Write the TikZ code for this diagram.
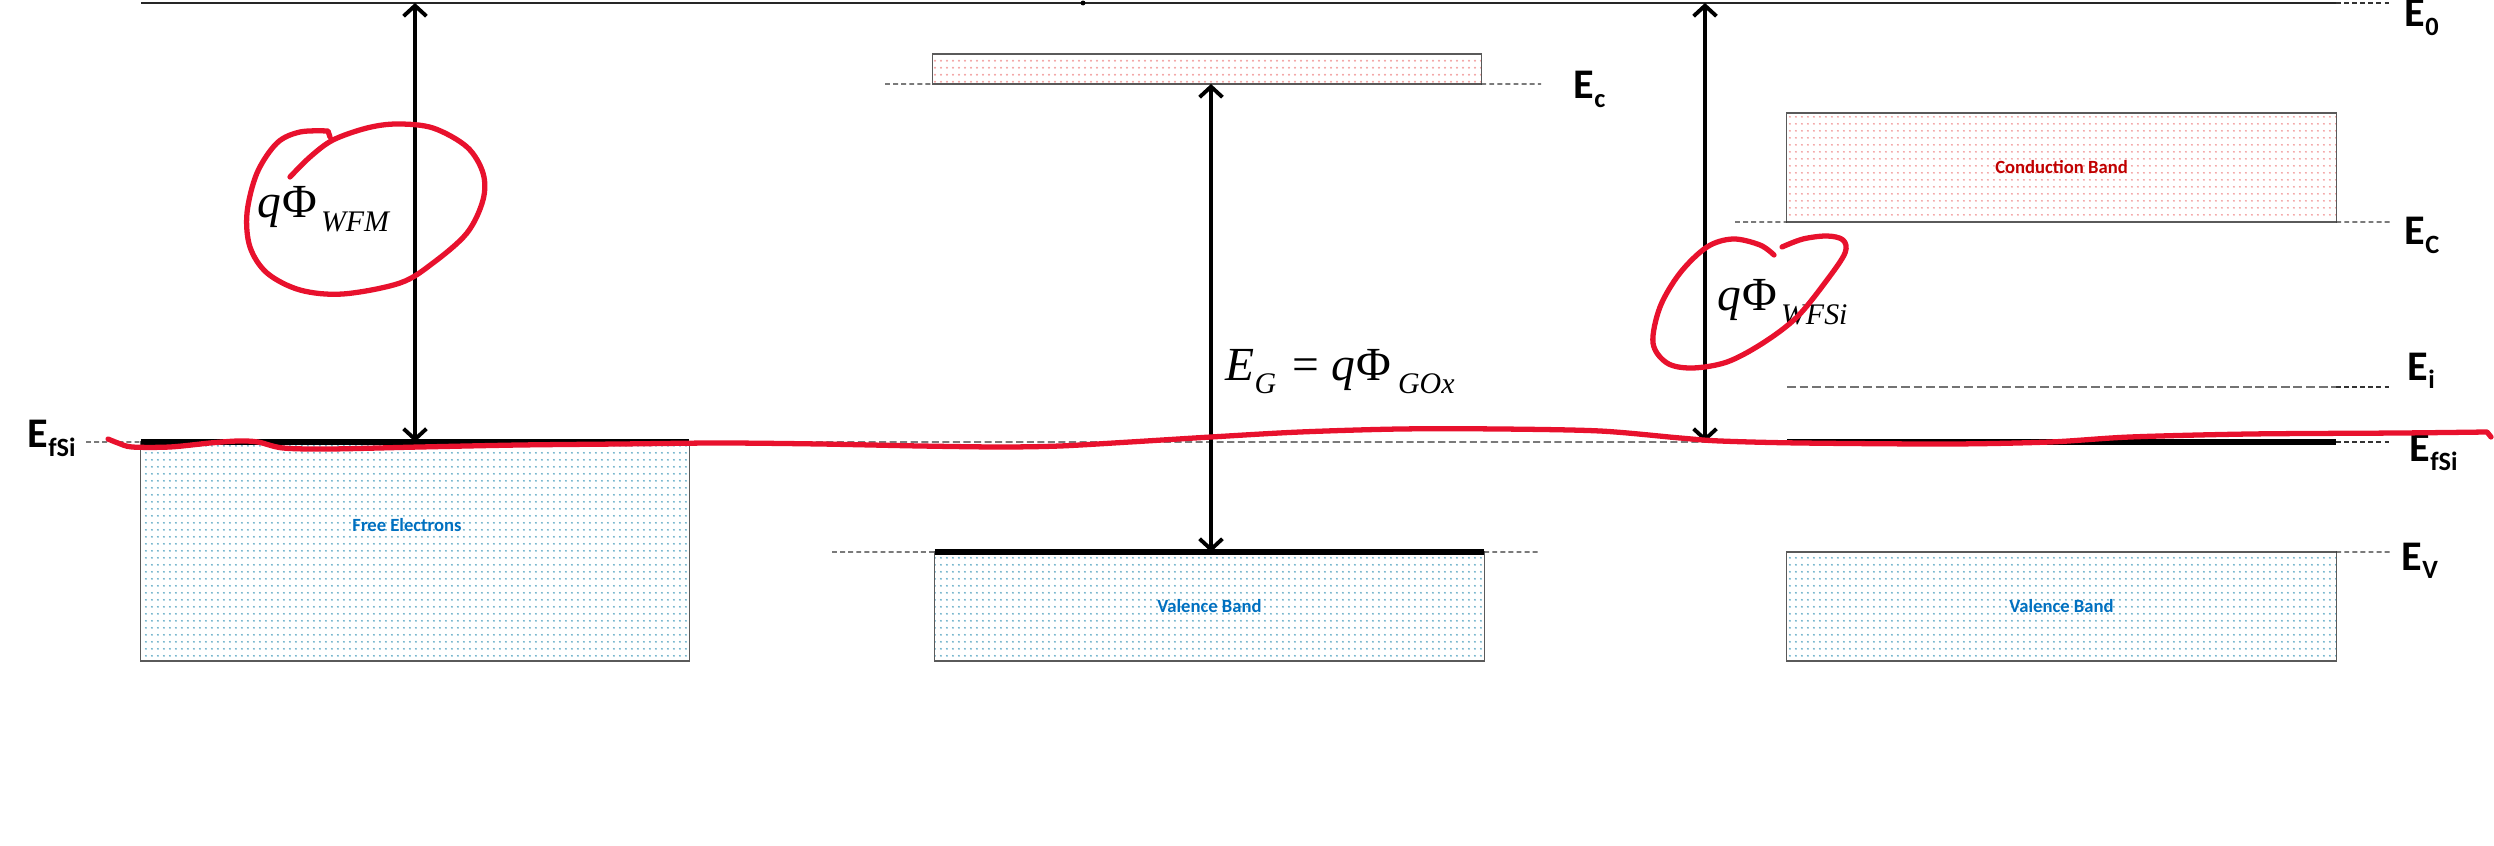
\documentclass[tikz,border=0pt]{standalone}
\usepackage{fontspec}
\setmainfont{Carlito}
\newfontfamily\timesf{Liberation Serif}
\usetikzlibrary{arrows.meta,patterns.meta}
\definecolor{inkred}{HTML}{E8112D}
\definecolor{dotblue}{HTML}{6AAFC8}
\definecolor{dotred}{HTML}{F2A0A0}
\definecolor{txtblue}{HTML}{0070C0}
\definecolor{txtred}{HTML}{C00000}
\definecolor{edgegray}{HTML}{5A5A5A}

\tikzdeclarepattern{
  name=finedots,
  bottom left={(0pt,0pt)},
  top right={(1.7pt,1.9pt)},
  tile size={(1.7pt,1.9pt)},
  code={\fill (0.85pt,0.95pt) circle (0.3pt);}
}

% energy level label, bold with subscript
\newcommand{\lvl}[2]{{\fontsize{12}{12}\selectfont\bfseries #1\raisebox{-2.3pt}{\fontsize{7.5}{8}\selectfont #2}}}
% italic subscript for the work function labels
\newcommand{\phisub}[1]{\raisebox{-3.8pt}{\fontsize{8.5}{9}\selectfont\itshape #1}}

\tikzset{
  band/.style={draw=edgegray, line width=0.35pt, inner sep=0pt, outer sep=0pt,
               font=\fontsize{5.3}{6}\selectfont\bfseries},
  valband/.style={band, pattern=finedots, pattern color=dotblue, text=txtblue},
  condband/.style={band, pattern=finedots, pattern color=dotred, text=txtred},
  level/.style={draw=black!80, line width=0.35pt, dash pattern=on 1.4pt off 0.9pt},
  fermi/.style={line width=1.5pt},
  gap/.style={line width=1.1pt,
              {Straight Barb[length=3pt,width=6.5pt]}-{Straight Barb[length=3pt,width=6.5pt]}},
  lbl/.style={inner sep=0pt, anchor=base west},
  phlbl/.style={inner sep=0pt, anchor=base west, font=\timesf\fontsize{13.5}{15}\selectfont},
  ink/.style={draw=inkred, line width=1.5pt, line cap=round, line join=round}
}

\begin{document}
\begin{tikzpicture}[x=0.01cm, y=-0.01cm]
\useasboundingbox (0,0) rectangle (2494,846);

% bands
\node[valband, minimum width=5.48cm, minimum height=2.19cm] (fe) at (415,551.5) {};
\node[font=\fontsize{5.3}{6}\selectfont\bfseries, text=txtblue, inner sep=0pt] (fetext) at (407,525) {Free Electrons};
\node[condband, minimum width=5.48cm, minimum height=0.30cm] (cbox) at (1207,69) {};
\node[valband, minimum width=5.49cm, minimum height=1.09cm] (vbox) at (1209.5,606.5) {Valence Band};
\node[condband, minimum width=5.49cm, minimum height=1.09cm] (cbsi) at (2061.5,167.5) {Conduction Band};
\node[valband, minimum width=5.49cm, minimum height=1.09cm] (vbsi) at (2061.5,606.5) {Valence Band};

% vacuum level
\coordinate (vacL) at (141,3);
\coordinate (vacR) at (2336,3);
\draw[line width=0.4pt, draw=black!85] (vacL) -- (vacR);
\draw[level] (vacR) -- (2392,3);
\fill (1083,3) circle (0.7pt);

% fermi levels
\coordinate (efL) at (86,442);
\coordinate (efS) at (1787,442);
\coordinate (efE) at (2336,442);
\draw[fermi] (fe.north west) -- (fe.north east);
\draw[level] (efL) -- (fe.north west);
\draw[level, dash pattern=on 2pt off 1pt] (fe.north east) -- (efS);
\draw[fermi] (efS) -- (efE);
\draw[level] (efE) -- (2392,442);

% oxide edges
\draw[level] (885,84) -- (cbox.south west);
\draw[level] (cbox.south east) -- (1541,84);
\draw[fermi] (vbox.north west) -- (vbox.north east);
\draw[level] (832,552) -- (vbox.north west);
\draw[level] (vbox.north east) -- (1540,552);

% silicon edges
\draw[level] (1735,222) -- (cbsi.south west);
\draw[level] (cbsi.south east) -- (2392,222);
\draw[level, draw=black!55, dash pattern=on 2.5pt off 1.1pt] (1787,387) -- (2336,387);
\draw[level] (2336,387) -- (2392,387);
\draw[level] (vbsi.north east) -- (2392,552);

% arrows
\coordinate (wfmtop) at (415,3);
\coordinate (egtop) at (1211,84);
\coordinate (egbot) at (1211,552);
\coordinate (wfstop) at (1705,3);
\coordinate (wfsbot) at (1705,442);
\draw[gap] (wfmtop) -- (fe.north);
\draw[gap] (egtop) -- (egbot);
\draw[gap] (wfstop) -- (wfsbot);

% labels
\node[lbl] (efl) at (27,448) {\lvl{E}{fSi}};
\node[lbl] (e0) at (2404,27) {\lvl{E}{0}};
\node[lbl] (ecm) at (1573,99) {\lvl{E}{c}};
\node[lbl] (ecr) at (2404,245) {\lvl{E}{C}};
\node[lbl] (ei) at (2407,380) {\lvl{E}{i}};
\node[lbl] (efr) at (2409,462) {\lvl{E}{fSi}};
\node[lbl] (ev) at (2401,570) {\lvl{E}{V}};

\node[phlbl] (wfm) at (257,218) {\itshape q\kern0.4pt\upshape Φ\kern1pt\phisub{WFM}};
\node[phlbl] (wfsi) at (1717,311) {\itshape q\kern0.4pt\upshape Φ\kern1pt\phisub{WFSi}};
\node[phlbl] (eg) at (1225,380) {\itshape E\phisub{G}\hspace{4.5pt}\upshape =\hspace{3.5pt}\itshape q\kern0.4pt\upshape Φ\kern2pt\phisub{GOx}};

% red ink
\draw[ink] plot[smooth, tension=0.55] coordinates {(290,177) (310,157) (333,140) (367,128) (397,124)
  (433,128) (467,147) (483,173) (483,200) (467,233) (433,263) (400,283) (343,294) (300,290)
  (267,273) (250,247) (247,213) (257,173) (277,143) (300,132) (328,131)} -- (330,137);
\draw[ink] plot[smooth, tension=0.55] coordinates {(1774,255) (1760,245) (1733,239) (1707,247)
  (1680,273) (1660,307) (1653,343) (1667,363) (1692,368) (1727,362) (1763,343) (1797,317)
  (1827,280) (1845,253) (1843,240) (1827,236) (1803,239) (1782,247)};
\draw[ink] plot[smooth, tension=0.5] coordinates {(108,439) (118,443) (132,447) (170,447) (210,443)
  (238,441) (258,442) (283,448) (330,449) (420,447) (520,445) (620,444) (720,443) (820,444)
  (920,446) (1000,447) (1060,446) (1130,442) (1211,437) (1300,432) (1400,429) (1500,429)
  (1600,431) (1680,438) (1720,441) (1800,443) (1950,444) (2050,442) (2130,437) (2250,434)
  (2400,433) (2487,432)} -- (2491,437);
\end{tikzpicture}
\end{document}
